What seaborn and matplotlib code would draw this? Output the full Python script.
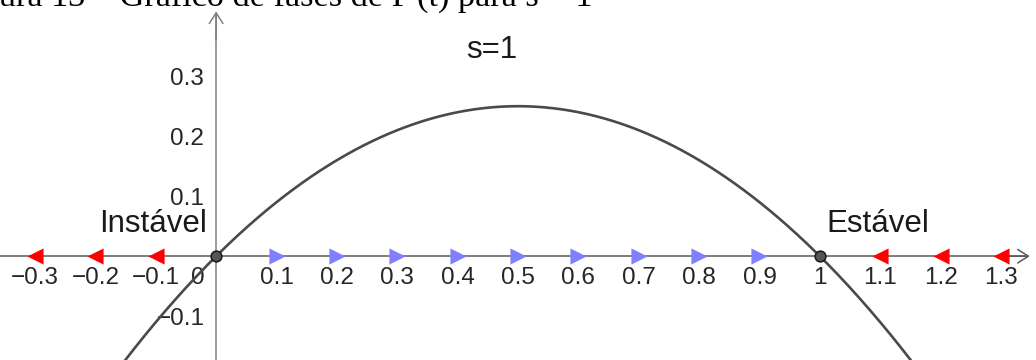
import numpy as np
import pandas as pd
import matplotlib
matplotlib.use("Agg")
import matplotlib.pyplot as plt
import seaborn as sns

# F(t) = -t^2 + t  (coefficients, highest power first)
poly_coeffs = [-1.0, 1.0, 0.0]
equilibria = [0.0, 1.0]
eq_labels = ["Instável", "Estável"]

# Phase-line arrows: sign of F(t) on each side of the equilibria
left_flow = [-0.3, -0.2, -0.1]
mid_flow = [0.1, 0.2, 0.3, 0.4, 0.5, 0.6, 0.7, 0.8, 0.9]
right_flow = [1.1, 1.2, 1.3]

x_ticks = [-0.3, -0.2, -0.1, 0.1, 0.2, 0.3, 0.4, 0.5, 0.6, 0.7, 0.8, 0.9, 1.0, 1.1, 1.2, 1.3]
x_tick_labels = ["−0.3", "−0.2", "−0.1", "0.1", "0.2", "0.3", "0.4", "0.5",
                 "0.6", "0.7", "0.8", "0.9", "1", "1.1", "1.2", "1.3"]
y_ticks = [-0.1, 0.1, 0.2, 0.3]
y_tick_labels = ["−0.1", "0.1", "0.2", "0.3"]

title_text = "s=1"
caption_text = "Figura 13 – Gráfico de fases de F'(t) para s = 1"

sns.set_theme(style="white")
plt.rcParams["font.family"] = ["Liberation Sans", "DejaVu Sans"]

fig = plt.figure(figsize=(10.36, 3.6), dpi=100)
ax = fig.add_axes([0, 0, 1, 1])
xmin, xmax = -0.358, 1.358
ymin, ymax = -0.173, 0.427
ax.set_xlim(xmin, xmax)
ax.set_ylim(ymin, ymax)
ax.set_facecolor("white")

# Axes through the origin
for side in ("top", "right"):
    ax.spines[side].set_visible(False)
ax.spines["bottom"].set_position(("data", 0))
ax.spines["left"].set_position(("data", 0))
ax.spines["bottom"].set_color("#5a5a5a")
ax.spines["left"].set_color("#808080")
ax.spines["bottom"].set_linewidth(1.1)
ax.spines["left"].set_linewidth(1.1)
ax.spines["bottom"].set_bounds(xmin, 1.34)
ax.spines["left"].set_bounds(ymin, 0.40)

ax.annotate("", xy=(1.3477, 0), xytext=(1.30, 0),
            arrowprops=dict(arrowstyle="->,head_length=0.55,head_width=0.35",
                            color="#5a5a5a", lw=1.1, mutation_scale=14,
                            shrinkA=0, shrinkB=0))
ax.annotate("", xy=(0, 0.408), xytext=(0, 0.36),
            arrowprops=dict(arrowstyle="->,head_length=0.55,head_width=0.35",
                            color="#808080", lw=1.1, mutation_scale=14,
                            shrinkA=0, shrinkB=0))

ax.set_xticks(x_ticks)
ax.set_xticklabels(x_tick_labels)
ax.set_yticks(y_ticks)
ax.set_yticklabels(y_tick_labels)
ax.tick_params(axis="x", direction="out", length=0, pad=8, labelsize=17.5,
               colors="#5a5a5a")
ax.tick_params(axis="y", direction="out", length=2.5, width=1, pad=6, labelsize=17.5,
               colors="#808080")
for lab in ax.get_yticklabels() + ax.get_xticklabels():
    lab.set_color("#262626")
ax.annotate("0", xy=(0, 0), xytext=(-13, -8), textcoords="offset points",
            ha="center", va="top", fontsize=17.5, color="#262626")

# The curve F(t)
t = np.linspace(xmin, xmax, 600)
curve = pd.DataFrame({"t": t, "F": np.polyval(poly_coeffs, t)})
sns.lineplot(data=curve, x="t", y="F", ax=ax, color="#4a4a4a", linewidth=1.9,
             zorder=3)

# Phase-line arrows
sns.scatterplot(x=left_flow, y=[0] * len(left_flow), ax=ax, marker="<", s=135,
                color="#ff0000", linewidth=0, zorder=4)
sns.scatterplot(x=right_flow, y=[0] * len(right_flow), ax=ax, marker="<", s=135,
                color="#ff0000", linewidth=0, zorder=4)
sns.scatterplot(x=mid_flow, y=[0] * len(mid_flow), ax=ax, marker=">", s=135,
                color="#7f7fff", linewidth=0, zorder=4)

# Equilibrium points
sns.scatterplot(x=equilibria, y=[0] * len(equilibria), ax=ax, marker="o", s=60,
                color="#555555", edgecolor="#1a1a1a", linewidth=1.1, zorder=5)

ax.text(-0.194, 0.04, eq_labels[0], ha="left", va="baseline", fontsize=22.5,
        color="#1a1a1a")
ax.text(1.010, 0.04, eq_labels[1], ha="left", va="baseline", fontsize=22.5,
        color="#1a1a1a")
ax.text(0.414, 0.33, title_text, ha="left", va="baseline", fontsize=22.5,
        color="#1a1a1a")

ax.set_xlabel("")
ax.set_ylabel("")

# Figure caption running along the top edge
fig.text(-47 / 1036, 1 - 5.5 / 360, caption_text, ha="left", va="baseline",
         fontsize=24.7, family=["Liberation Serif", "DejaVu Serif"], color="black")

fig.savefig("out.png", dpi=100, facecolor="white")
